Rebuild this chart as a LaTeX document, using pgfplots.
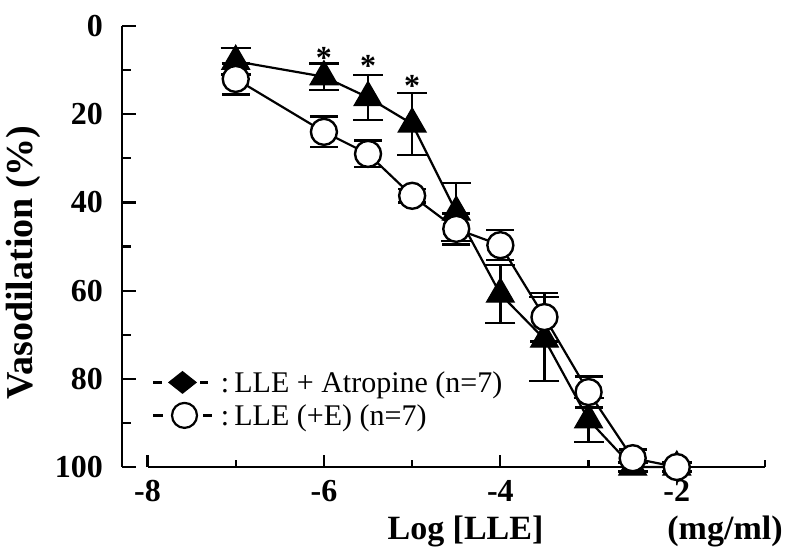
\documentclass[border=0pt]{standalone}
\usepackage{pgfplots}
\usepackage{pgfplotstable}
\pgfplotsset{compat=1.18}
\usepackage{fontspec}
\setmainfont{Liberation Serif}
\newcommand\tickfont{\fontsize{16}{16}\selectfont\bfseries}
\newcommand\labfont{\fontsize{17}{17}\selectfont\bfseries}
\newcommand\ylabfont{\fontsize{19}{19}\selectfont\bfseries}
\newcommand\legfont{\fontsize{15}{15}\selectfont}

\pgfplotstableread{
x y e
-7 8 3
-6 11.5 3
-5.5 16.2 5.1
-5 22.2 7
-4.5 42.2 6.6
-4 60.8 6.6
-3.5 71 9.5
-3 89.3 5
-2.5 100 1
-2 100 1
}\atropine

\pgfplotstableread{
x y e
-7 12 3.5
-6 24 3.5
-5.5 29 3
-5 38.5 1.5
-4.5 46 3.5
-4 49.7 3.4
-3.5 66 5.5
-3 83 3.5
-2.5 98 2
-2 100 1
}\llee

\begin{document}
\begin{tikzpicture}
\useasboundingbox (0,0) rectangle (392.5pt,277pt);
% x axis (offset from y axis)
\begin{axis}[
  at={(73.75pt,43.5pt)}, anchor=south west,
  scale only axis, width=308.75pt, height=220.5pt,
  xmin=-8, xmax=-1, ymin=0, ymax=100,
  axis y line=none, axis x line*=bottom,
  axis line style={line width=1.1pt},
  xtick={-8,-6,-4,-2}, xticklabels={-8,-6,-4,-2},
  minor xtick={-7,-5,-3,-1},
  tick align=inside, major tick length=6pt, minor tick length=3.5pt,
  tick style={line width=1.1pt, black},
  xticklabel style={font=\tickfont, yshift=-3pt},
  xlabel={Log [LLE]},
  xlabel style={font=\labfont, at={(axis description cs:0.515,0)}, anchor=base, yshift=-36pt},
]
\end{axis}
% y axis and data
\begin{axis}[
  at={(61pt,43.5pt)}, anchor=south west,
  scale only axis, width=321.5pt, height=220.5pt,
  xmin=-8.289, xmax=-1, ymin=0, ymax=100, y dir=reverse,
  axis x line=none, axis y line*=left, clip=false,
  axis line style={line width=1.1pt},
  ytick={0,20,40,60,80,100}, yticklabels={0,20,40,60,80,100},
  minor ytick={10,30,50,70,90},
  tick align=inside, major tick length=7pt, minor tick length=4.5pt,
  tick style={line width=1.1pt, black},
  yticklabel style={font=\tickfont, xshift=-6pt},
]
\addplot[black, line width=1.1pt, mark=triangle*, mark size=8pt,
  mark options={fill=black, line width=0.6pt},
  error bars/.cd, y dir=both, y explicit,
  error bar style={line width=1.2pt},
  error mark options={rotate=90, mark size=7.5pt, line width=1.2pt}]
  table[x=x, y=y, y error=e] {\atropine};
\addplot[black, line width=1.1pt, mark=*, mark size=6.5pt,
  mark options={fill=white, line width=1.2pt},
  error bars/.cd, y dir=both, y explicit,
  error bar style={line width=1.2pt},
  error mark options={rotate=90, mark size=7pt, line width=1.2pt}]
  table[x=x, y=y, y error=e] {\llee};
\node[font=\tickfont] at (axis cs:-6,7.3) {*};
\node[font=\tickfont] at (axis cs:-5.5,9.1) {*};
\node[font=\tickfont] at (axis cs:-5,13.6) {*};
\end{axis}
% legend
\draw[line width=1.4pt] (76.5pt,85.8pt)--(81pt,85.8pt);
\fill (84pt,85.8pt)--(91.25pt,91.55pt)--(98.5pt,85.8pt)--(91.25pt,80.05pt)--cycle;
\draw[line width=1.4pt] (100pt,85.8pt)--(104pt,85.8pt);
\node[font=\legfont, anchor=base, inner sep=0pt] at (112.5pt,81pt) {:};
\node[font=\legfont, anchor=base west, inner sep=0pt] at (117pt,81pt) {LLE + Atropine (n=7)};
\draw[line width=1.4pt] (76.5pt,69.3pt)--(81.5pt,69.3pt);
\draw[line width=1.1pt] (92.25pt,69.3pt) circle (6.25pt);
\draw[line width=1.4pt] (101.5pt,69.3pt)--(106pt,69.3pt);
\node[font=\legfont, anchor=base, inner sep=0pt] at (112.5pt,64.5pt) {:};
\node[font=\legfont, anchor=base west, inner sep=0pt] at (117pt,64.5pt) {LLE (+E) (n=7)};
% axis labels
\node[font=\ylabfont, rotate=90, anchor=base] at (16.5pt,145.75pt) {Vasodilation (\%)};
\node[font=\labfont, anchor=base] at (362.5pt,7.5pt) {(mg/ml)};
\end{tikzpicture}
\end{document}
